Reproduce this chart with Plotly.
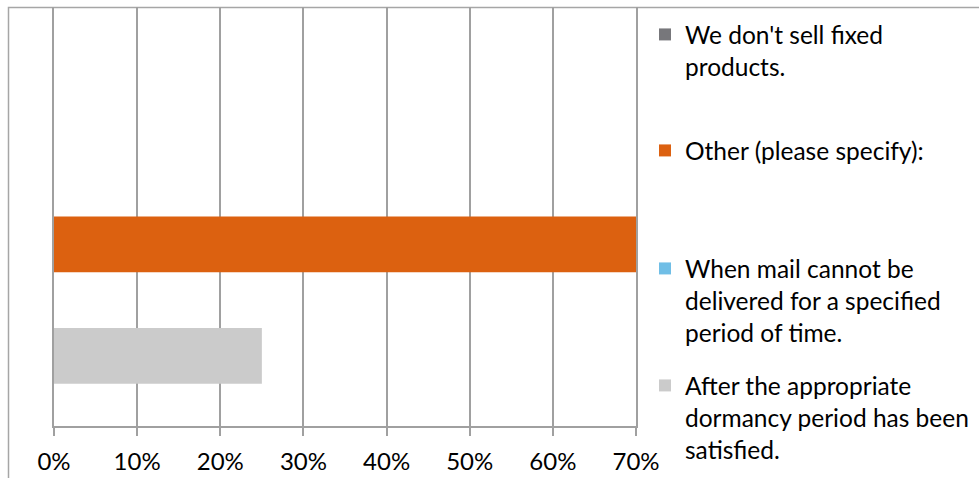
import plotly.graph_objects as go

# Data
series = [
    "We don't sell fixed products.",
    "Other (please specify):",
    "When mail cannot be delivered for a specified period of time.",
    "After the appropriate dormancy period has been satisfied.",
]
legend_labels = [
    "We don't sell fixed<br>products.",
    "Other (please specify):",
    "When mail cannot be<br>delivered for a specified<br>period of time.",
    "After the appropriate<br>dormancy period has been<br>satisfied.",
]
values = [0.0, 0.70, 0.0, 0.25]
colors = ["#77777b", "#dc6110", "#70bee6", "#cbcbcb"]
# category order bottom -> top
cat_order = [series[3], series[1], series[2], series[0]]
x_ticks = [0, 0.1, 0.2, 0.3, 0.4, 0.5, 0.6, 0.7]

W, H = 979, 478
FONT = "Lato"
legend_tops = [12, 128, 246, 363]  # pixel tops of legend entries

fig = go.Figure()
for i, (s, lab, v, c) in enumerate(zip(series, legend_labels, values, colors)):
    lname = "legend" if i == 0 else f"legend{i+1}"
    fig.add_trace(go.Bar(
        y=[s], x=[v], orientation="h", name=lab,
        marker=dict(color=c, line=dict(width=0)),
        width=0.5, legend=lname, hoverinfo="x+name",
    ))

layout_legends = {}
for i, top in enumerate(legend_tops):
    lname = "legend" if i == 0 else f"legend{i+1}"
    layout_legends[lname] = dict(
        x=645 / W, xanchor="left", y=1 - top / H, yanchor="top",
        font=dict(family=FONT, size=24.5, color="#000000"),
        bgcolor="rgba(0,0,0,0)", borderwidth=0, valign="top",
        itemwidth=30, tracegroupgap=0,
    )

fig.update_layout(
    width=W, height=H,
    margin=dict(l=0, r=0, t=0, b=0, autoexpand=False),
    paper_bgcolor="white", plot_bgcolor="white",
    barmode="overlay",
    showlegend=True,
    font=dict(family=FONT, size=24, color="#000000"),
    xaxis=dict(
        domain=[54 / W, 636 / W], range=[0, 0.70],
        tickvals=x_ticks, tickformat=".0%",
        showgrid=True, gridcolor="#a0a0a0", gridwidth=1.5,
        showline=True, linecolor="#a0a0a0", linewidth=1.5,
        ticks="outside", ticklen=8, tickcolor="#a0a0a0", tickwidth=1.5,
        zeroline=False, fixedrange=True, automargin=False,
        ticklabelstandoff=5,
        tickfont=dict(family=FONT, size=24, color="#000000"),
    ),
    yaxis=dict(
        domain=[(H - 426) / H, (H - 7) / H],
        type="category", categoryorder="array", categoryarray=cat_order,
        range=[-0.628, 3.13],
        showticklabels=False, showgrid=False, zeroline=False,
        showline=True, mirror=True, linecolor="#a0a0a0", linewidth=1.5,
        ticks="", fixedrange=True, automargin=False,
    ),
    shapes=[dict(
        type="rect", xref="paper", yref="paper",
        x0=8.5 / W, x1=1.2, y0=-0.2, y1=(H - 7.5) / H,
        line=dict(color="#a6a6a6", width=1.5), fillcolor="rgba(0,0,0,0)",
        layer="below",
    )],
    **layout_legends,
)

fig.write_html("out.html")
